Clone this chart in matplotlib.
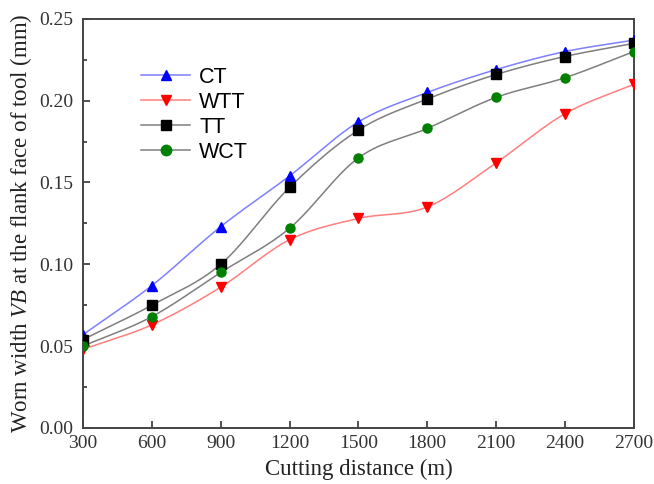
import numpy as np
import matplotlib
matplotlib.use("Agg")
import matplotlib.pyplot as plt
from matplotlib.ticker import MultipleLocator, FormatStrFormatter

plt.rcParams["mathtext.fontset"] = "custom"
plt.rcParams["mathtext.it"] = "Liberation Serif:italic"
plt.rcParams["mathtext.rm"] = "Liberation Serif"

distance = [300, 600, 900, 1200, 1500, 1800, 2100, 2400, 2700]
vb_ct = [0.057, 0.087, 0.123, 0.154, 0.187, 0.205, 0.219, 0.230, 0.237]
vb_wtt = [0.048, 0.063, 0.086, 0.115, 0.128, 0.135, 0.162, 0.192, 0.210]
vb_tt = [0.054, 0.075, 0.100, 0.147, 0.182, 0.201, 0.216, 0.227, 0.235]
vb_wct = [0.050, 0.068, 0.095, 0.122, 0.165, 0.183, 0.202, 0.214, 0.230]


def smooth(x, y, n=30):
    # Catmull-Rom curve through the points, only used to draw the line
    x = np.asarray(x, float)
    y = np.asarray(y, float)
    px = np.concatenate([[2 * x[0] - x[1]], x, [2 * x[-1] - x[-2]]])
    py = np.concatenate([[2 * y[0] - y[1]], y, [2 * y[-1] - y[-2]]])
    xs, ys = [], []
    t = np.linspace(0, 1, n, endpoint=False)
    for i in range(1, len(px) - 2):
        for p, out in ((px, xs), (py, ys)):
            p0, p1, p2, p3 = p[i - 1], p[i], p[i + 1], p[i + 2]
            out.extend(0.5 * (2 * p1 + (-p0 + p2) * t
                              + (2 * p0 - 5 * p1 + 4 * p2 - p3) * t ** 2
                              + (-p0 + 3 * p1 - 3 * p2 + p3) * t ** 3))
    xs.append(x[-1])
    ys.append(y[-1])
    return np.array(xs), np.array(ys)


series = [
    ("CT", vb_ct, "#7f7fff", "blue", "^"),
    ("WTT", vb_wtt, "#ff7f7f", "red", "v"),
    ("TT", vb_tt, "#7f7f7f", "black", "s"),
    ("WCT", vb_wct, "#7f7f7f", "green", "o"),
]

fig = plt.figure(figsize=(6.54, 4.84), dpi=100)
ax = fig.add_axes([0.127, 0.116, 0.842, 0.845])

for name, vals, lc, mc, mk in series:
    sx, sy = smooth(distance, vals)
    ax.plot(sx, sy, color=lc, linewidth=1.1, zorder=2)
    ax.plot(distance, vals, linestyle="none", marker=mk, markersize=6.5,
            color=mc, zorder=3)
    ax.plot([], [], color=lc, linewidth=1.1, marker=mk, markersize=7.5,
            markerfacecolor=mc, markeredgecolor=mc, label=name)

ax.set_xlim(300, 2700)
ax.set_ylim(0, 0.25)
ax.set_xticks(distance)
ax.yaxis.set_major_locator(MultipleLocator(0.05))
ax.yaxis.set_minor_locator(MultipleLocator(0.025))
ax.yaxis.set_major_formatter(FormatStrFormatter("%.2f"))
ax.tick_params(which="both", direction="in", top=False, right=False,
               width=1.2, colors="#333333", labelcolor="#333333")
ax.tick_params(which="major", length=5, labelsize=14)
ax.tick_params(which="minor", length=3)
ax.tick_params(axis="y", pad=7)
ax.tick_params(axis="x", pad=5)
for lab in ax.get_xticklabels() + ax.get_yticklabels():
    lab.set_family("Liberation Serif")
for sp in ax.spines.values():
    sp.set_linewidth(1.4)
    sp.set_color("#444444")

ax.set_xlabel("Cutting distance (m)", family="Liberation Serif", fontsize=16.5,
              color="#222222", labelpad=5)
ax.set_ylabel(r"Worn width $\mathit{VB}$ at the flank face of tool (mm)",
              family="Liberation Serif", fontsize=16.5, color="#222222",
              labelpad=4)

ax.legend(loc="upper left", bbox_to_anchor=(0.07, 0.93), frameon=False,
          prop={"family": "Liberation Sans", "size": 15.5}, handlelength=2.3,
          labelspacing=0.18, handletextpad=0.4)

fig.savefig("out.png", dpi=100)
